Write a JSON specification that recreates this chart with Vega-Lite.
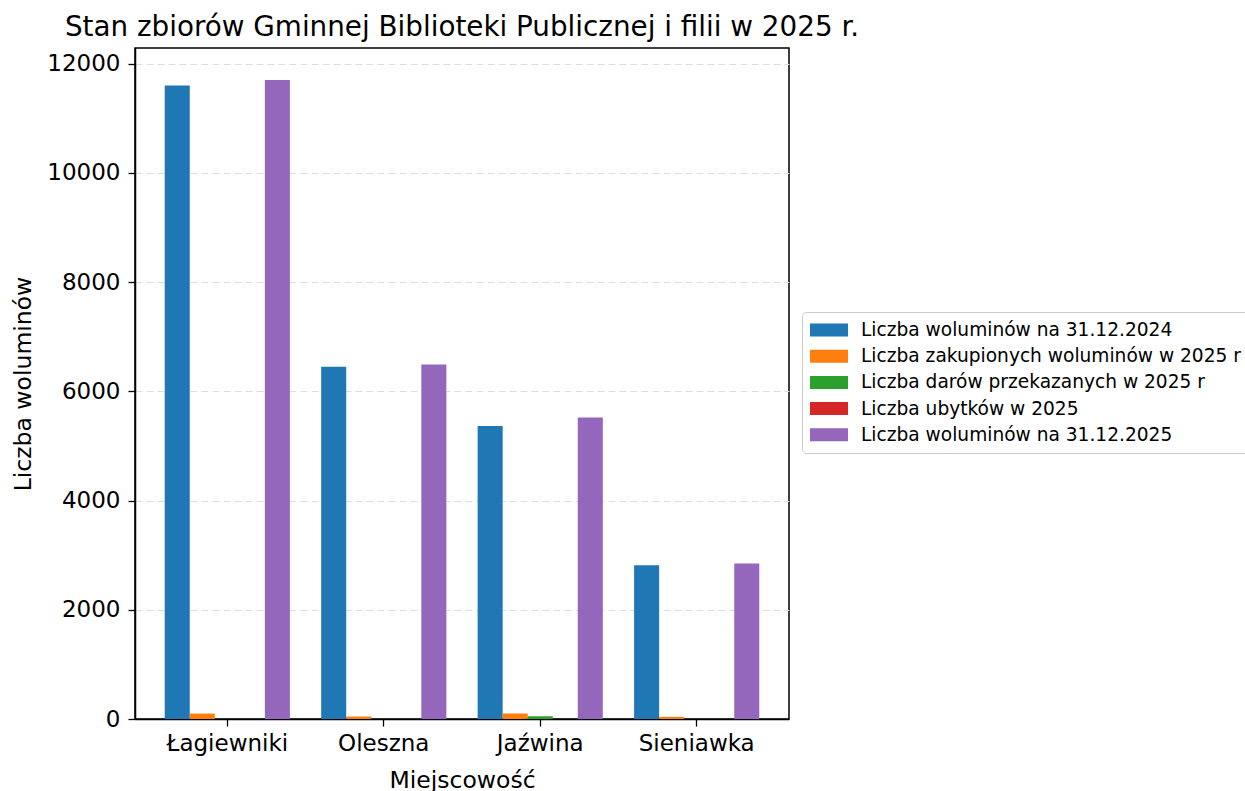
{
  "$schema": "https://vega.github.io/schema/vega-lite/v6.json",
  "autosize": {"type": "none"},
  "padding": {"left": 135, "top": 48, "right": 456, "bottom": 72},
  "width": 654,
  "height": 671,
  "background": "white",
  "title": {
    "text": "Stan zbiorów Gminnej Biblioteki Publicznej i filii w 2025 r.",
    "font": "DejaVu Sans",
    "fontSize": 27.8,
    "fontWeight": "normal",
    "color": "black",
    "anchor": "middle",
    "baseline": "alphabetic",
    "offset": -16
  },
  "config": {
    "font": "DejaVu Sans",
    "view": {"stroke": "black", "strokeWidth": 1.5},
    "axis": {
      "labelFont": "DejaVu Sans",
      "titleFont": "DejaVu Sans",
      "labelColor": "black",
      "titleColor": "black",
      "labelFontSize": 23,
      "titleFontSize": 23.5,
      "titleFontWeight": "normal",
      "tickColor": "black",
      "tickSize": 7,
      "tickWidth": 1.3,
      "domain": true,
      "domainColor": "black",
      "domainWidth": 1.5
    },
    "legend": {
      "labelFont": "DejaVu Sans",
      "labelFontSize": 18.6,
      "labelColor": "black",
      "labelLimit": 600
    }
  },
  "data": {
    "values": [
      {"miejscowosc": "Łagiewniki", "seria": "Liczba woluminów na 31.12.2024", "wartosc": 11600},
      {"miejscowosc": "Łagiewniki", "seria": "Liczba zakupionych woluminów w 2025 r", "wartosc": 100},
      {"miejscowosc": "Łagiewniki", "seria": "Liczba darów przekazanych w 2025 r", "wartosc": 0},
      {"miejscowosc": "Łagiewniki", "seria": "Liczba ubytków w 2025", "wartosc": 0},
      {"miejscowosc": "Łagiewniki", "seria": "Liczba woluminów na 31.12.2025", "wartosc": 11700},
      {"miejscowosc": "Oleszna", "seria": "Liczba woluminów na 31.12.2024", "wartosc": 6450},
      {"miejscowosc": "Oleszna", "seria": "Liczba zakupionych woluminów w 2025 r", "wartosc": 45},
      {"miejscowosc": "Oleszna", "seria": "Liczba darów przekazanych w 2025 r", "wartosc": 0},
      {"miejscowosc": "Oleszna", "seria": "Liczba ubytków w 2025", "wartosc": 0},
      {"miejscowosc": "Oleszna", "seria": "Liczba woluminów na 31.12.2025", "wartosc": 6490},
      {"miejscowosc": "Jaźwina", "seria": "Liczba woluminów na 31.12.2024", "wartosc": 5365},
      {"miejscowosc": "Jaźwina", "seria": "Liczba zakupionych woluminów w 2025 r", "wartosc": 100},
      {"miejscowosc": "Jaźwina", "seria": "Liczba darów przekazanych w 2025 r", "wartosc": 50},
      {"miejscowosc": "Jaźwina", "seria": "Liczba ubytków w 2025", "wartosc": 0},
      {"miejscowosc": "Jaźwina", "seria": "Liczba woluminów na 31.12.2025", "wartosc": 5518},
      {"miejscowosc": "Sieniawka", "seria": "Liczba woluminów na 31.12.2024", "wartosc": 2813},
      {"miejscowosc": "Sieniawka", "seria": "Liczba zakupionych woluminów w 2025 r", "wartosc": 40},
      {"miejscowosc": "Sieniawka", "seria": "Liczba darów przekazanych w 2025 r", "wartosc": 0},
      {"miejscowosc": "Sieniawka", "seria": "Liczba ubytków w 2025", "wartosc": 0},
      {"miejscowosc": "Sieniawka", "seria": "Liczba woluminów na 31.12.2025", "wartosc": 2845}
    ]
  },
  "mark": {"type": "bar"},
  "encoding": {
    "x": {
      "field": "miejscowosc",
      "type": "nominal",
      "sort": ["Łagiewniki", "Oleszna", "Jaźwina", "Sieniawka"],
      "scale": {"paddingInner": 0.2, "paddingOuter": 0.19},
      "axis": {"title": "Miejscowość", "labelAngle": 0, "labelPadding": 6, "titlePadding": 13, "grid": false}
    },
    "xOffset": {
      "field": "seria",
      "type": "nominal",
      "sort": ["Liczba woluminów na 31.12.2024", "Liczba zakupionych woluminów w 2025 r", "Liczba darów przekazanych w 2025 r", "Liczba ubytków w 2025", "Liczba woluminów na 31.12.2025"],
      "scale": {"paddingInner": 0, "paddingOuter": 0}
    },
    "y": {
      "field": "wartosc",
      "type": "quantitative",
      "scale": {"domain": [0, 12285], "nice": false, "zero": true},
      "axis": {
        "title": "Liczba woluminów",
        "values": [0, 2000, 4000, 6000, 8000, 10000, 12000],
        "format": "d",
        "labelPadding": 8,
        "titlePadding": 11,
        "grid": true,
        "gridColor": "#dddddd",
        "gridDash": [7, 4],
        "gridWidth": 1.2
      }
    },
    "color": {
      "field": "seria",
      "type": "nominal",
      "sort": ["Liczba woluminów na 31.12.2024", "Liczba zakupionych woluminów w 2025 r", "Liczba darów przekazanych w 2025 r", "Liczba ubytków w 2025", "Liczba woluminów na 31.12.2025"],
      "scale": {
        "domain": ["Liczba woluminów na 31.12.2024", "Liczba zakupionych woluminów w 2025 r", "Liczba darów przekazanych w 2025 r", "Liczba ubytków w 2025", "Liczba woluminów na 31.12.2025"],
        "range": ["#1f77b4", "#ff7f0e", "#2ca02c", "#d62728", "#9467bd"]
      },
      "legend": {
        "title": null,
        "orient": "none",
        "legendX": 667,
        "legendY": 264,
        "symbolType": "M-1,-0.65L2.8,-0.65L2.8,0.65L-1,0.65Z",
        "symbolSize": 400,
        "symbolStrokeWidth": 0,
        "labelOffset": 31,
        "padding": 8,
        "rowPadding": 6.2,
        "strokeColor": "#cccccc",
        "fillColor": "white",
        "cornerRadius": 4
      }
    }
  }
}
